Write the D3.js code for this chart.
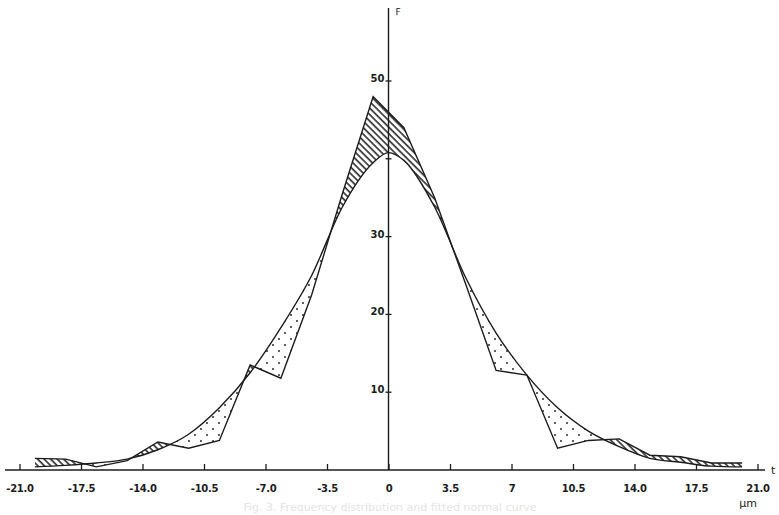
<!DOCTYPE html>
<html><head><meta charset="utf-8">
<script src="https://cdn.jsdelivr.net/npm/d3@7"></script>
<style>body{margin:0;background:#fff;} svg{display:block;}</style>
</head><body>
<svg id="c" width="779" height="515"></svg>
<script>
// Observed frequency polygon (bin midpoints, µm) and frequencies
const binMid   = [-20.125,-18.375,-16.625,-14.875,-13.125,-11.375,-9.625,-7.875,-6.125,-4.375,-2.625,-0.875,
                   0.875, 2.625, 4.375, 6.125, 7.875, 9.625, 11.375, 13.125, 14.875, 16.625, 18.375, 20.125];
const observed = [1.5, 1.4, 0.4, 1.2, 3.6, 2.8, 3.8, 13.5, 11.8, 22.5, 35.5, 48.0,
                  44.0, 35.0, 24.0, 12.8, 12.2, 2.8, 3.8, 4.0, 1.9, 1.7, 0.9, 0.9];
// Fitted (normal) curve
const curveX   = [-20.125,-18.375,-16.625,-14.875,-13.125,-11.375,-9.625,-7.875,-6.125,-4.375,-2.625,-0.875, 0,
                   0.875, 2.625, 4.375, 6.125, 7.875, 9.625, 11.375, 13.125, 14.875, 16.625, 18.375, 20.125];
const curveF   = [0.4, 0.6, 0.9, 1.4, 2.6, 4.6, 8.0, 12.5, 18.3, 25.0, 33.8, 39.5, 40.8,
                  39.8, 33.8, 24.8, 17.6, 12.2, 8.0, 5.0, 3.0, 1.5, 1.0, 0.5, 0.4];
const xTicks = [-21,-17.5,-14,-10.5,-7,-3.5,0,3.5,7,10.5,14,17.5,21];
const xTickLabels = ["-21.0","-17.5","-14.0","-10.5","-7.0","-3.5","0","3.5","7","10.5","14.0","17.5","21.0"];
const yTicks = [10,20,30,40,50];
const yTickLabels = ["10","20","30","","50"];

const svg = d3.select("#c");
const ink = "#1c1c1c";
const x = d3.scaleLinear().domain([-21,21]).range([19.5,757.5]);
const y = d3.scaleLinear().domain([0,50]).range([470,81]);

const defs = svg.append("defs");
const hatch = defs.append("pattern").attr("id","hatch").attr("patternUnits","userSpaceOnUse")
  .attr("width",4.6).attr("height",10).attr("patternTransform","rotate(-45)");
hatch.append("line").attr("x1",1).attr("x2",1).attr("y1",-1).attr("y2",11)
  .attr("stroke",ink).attr("stroke-width",1.5);
const dots = defs.append("pattern").attr("id","dots").attr("patternUnits","userSpaceOnUse")
  .attr("width",12).attr("height",12);
dots.append("circle").attr("cx",3).attr("cy",3).attr("r",0.95).attr("fill",ink);
dots.append("circle").attr("cx",9).attr("cy",9).attr("r",0.95).attr("fill",ink);

const obsPts = binMid.map((v,i)=>[v,observed[i]]);
const curPts = curveX.map((v,i)=>[v,curveF[i]]);
const smooth = d3.curveMonotoneX;

defs.append("clipPath").attr("id","aboveCurve").append("path")
  .attr("d", d3.area().curve(smooth).x(d=>x(d[0])).y0(0).y1(d=>y(d[1]))(curPts));
defs.append("clipPath").attr("id","aboveObs").append("path")
  .attr("d", d3.area().x(d=>x(d[0])).y0(0).y1(d=>y(d[1]))(obsPts));

// hatched: observed above curve
svg.append("path").attr("clip-path","url(#aboveCurve)")
  .attr("d", d3.area().x(d=>x(d[0])).y0(y(0)).y1(d=>y(d[1]))(obsPts))
  .attr("fill","url(#hatch)");
// dotted: observed below curve
svg.append("path").attr("clip-path","url(#aboveObs)")
  .attr("d", d3.area().curve(smooth).x(d=>x(d[0])).y0(y(0)).y1(d=>y(d[1]))(curPts))
  .attr("fill","url(#dots)");

svg.append("path").attr("d", d3.line().curve(smooth).x(d=>x(d[0])).y(d=>y(d[1]))(curPts))
  .attr("fill","none").attr("stroke",ink).attr("stroke-width",1.4);
svg.append("path").attr("d", d3.line().x(d=>x(d[0])).y(d=>y(d[1]))(obsPts))
  .attr("fill","none").attr("stroke",ink).attr("stroke-width",1.4).attr("stroke-linejoin","miter");

// x axis
svg.append("line").attr("x1",5).attr("x2",765).attr("y1",y(0)).attr("y2",y(0))
  .attr("stroke",ink).attr("stroke-width",1.4);
const xa = d3.axisBottom(x).tickValues(xTicks).tickSizeInner(-6).tickSizeOuter(0).tickPadding(15)
  .tickFormat((d,i)=>xTickLabels[i]);
const gx = svg.append("g").attr("transform",`translate(0,${y(0)})`).call(xa);
gx.select(".domain").remove();
gx.selectAll(".tick line").attr("stroke",ink).attr("stroke-width",1.3);
gx.selectAll(".tick text").attr("fill",ink).style("font-family","DejaVu Sans").style("font-size","10px")
  .style("font-weight","bold").attr("letter-spacing","-0.3");
svg.append("text").attr("x",771).attr("y",y(0)+4).text("t")
  .attr("fill",ink).style("font-family","DejaVu Sans").style("font-size","11px");
svg.append("text").attr("x",748).attr("y",507).attr("text-anchor","middle").text("μm")
  .attr("fill",ink).style("font-family","DejaVu Sans").style("font-size","11px");

// y axis
const x0 = x(0);
svg.append("line").attr("x1",x0).attr("x2",x0).attr("y1",8).attr("y2",y(0))
  .attr("stroke",ink).attr("stroke-width",1.4);
const gy = svg.append("g");
yTicks.forEach((t,i)=>{
  gy.append("line").attr("x1",x0-3).attr("x2",x0+3).attr("y1",y(t)).attr("y2",y(t))
    .attr("stroke",ink).attr("stroke-width",1.3);
  gy.append("text").attr("x",x0-4).attr("y",y(t)).attr("dy","0.1em").attr("text-anchor","end")
    .text(yTickLabels[i]).attr("fill",ink).style("font-family","DejaVu Sans").style("font-size","10px")
    .style("font-weight","bold");
});
svg.append("text").attr("x",x0+7).attr("y",15).text("F")
  .attr("fill",ink).style("font-family","DejaVu Sans").style("font-size","9px");

// faint caption
svg.append("text").attr("x",390).attr("y",511).attr("text-anchor","middle")
  .text("Fig. 3. Frequency distribution and fitted normal curve")
  .attr("fill","#e4e4e4").style("font-family","DejaVu Sans").style("font-size","11px");
</script>
</body></html>
